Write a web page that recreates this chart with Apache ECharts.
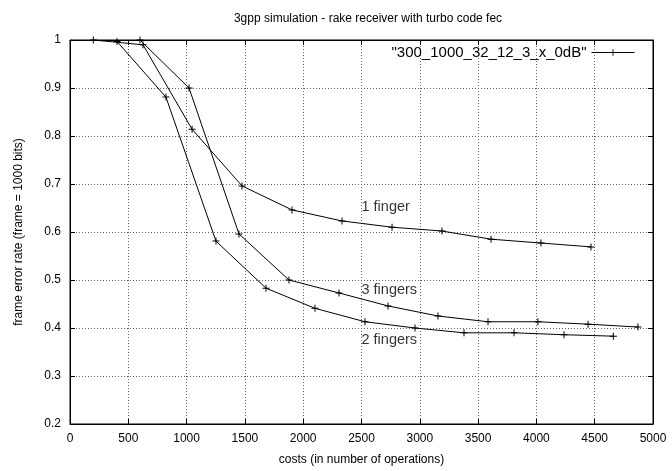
<!DOCTYPE html>
<html>
<meta charset="UTF-8">
<head>
    <title>3gpp simulation - rake receiver</title>
    <script src="https://cdn.jsdelivr.net/npm/echarts@6/dist/echarts.min.js"></script>
    <style>
        body { margin: 0; background: #fff; }
        #main { width: 672px; height: 471px; }
    </style>
</head>
<body>
<div id="main"></div>
<script type="text/javascript">
    // values
    var finger1X = [200, 626, 1047, 1475, 1904, 2333, 2762, 3190, 3611, 4039, 4468];
    var finger1Y = [1.0, 0.99, 0.814, 0.696, 0.646, 0.623, 0.61, 0.602, 0.585, 0.577, 0.569];
    var finger2X = [403, 823, 1252, 1681, 2101, 2530, 2959, 3379, 3808, 4237, 4660];
    var finger2Y = [0.997, 0.881, 0.581, 0.483, 0.441, 0.413, 0.40, 0.39, 0.39, 0.386, 0.383];
    var finger3X = [600, 1021, 1449, 1878, 2307, 2727, 3156, 3585, 4013, 4443, 4871];
    var finger3Y = [1.0, 0.9, 0.596, 0.5, 0.473, 0.446, 0.425, 0.413, 0.413, 0.408, 0.402];

    var labelNames = ['1 finger', '3 fingers', '2 fingers'];
    var labelX = [2500, 2500, 2500];
    var labelY = [0.652, 0.479, 0.375];

    var seriesName = '"300_1000_32_12_3_x_0dB"';
    var plusSymbol = 'path://M0,3H7V4H0Z M3,0H4V7H3Z';
    var font = 'Liberation Sans, Arial, sans-serif';

    function pairs(xs, ys) {
        var out = [];
        for (var i = 0; i < xs.length; i++) {
            out.push([xs[i], ys[i]]);
        }
        return out;
    }

    function curve(xs, ys) {
        return {
            name: seriesName,
            type: 'line',
            data: pairs(xs, ys),
            symbol: plusSymbol,
            symbolSize: 7,
            showSymbol: true,
            lineStyle: { color: '#000', width: 1 },
            itemStyle: { color: '#000' },
            emphasis: { disabled: true }
        };
    }

    var labelData = [];
    for (var k = 0; k < labelNames.length; k++) {
        labelData.push({ name: labelNames[k], value: [labelX[k], labelY[k]] });
    }

    var myChart = echarts.init(document.getElementById('main'));

    var option = {
        animation: false,
        backgroundColor: '#fff',
        textStyle: { fontFamily: font, color: '#000' },
        title: {
            text: '3gpp simulation - rake receiver with turbo code fec',
            left: 363,
            textAlign: 'center',
            top: 8,
            textStyle: { fontSize: 12, fontWeight: 'normal', color: '#000', fontFamily: font }
        },
        legend: {
            data: [seriesName],
            right: 32,
            top: 40,
            align: 'right',
            itemWidth: 43,
            itemHeight: 8,
            itemGap: 6,
            lineStyle: { width: 1 },
            textStyle: { fontSize: 15, color: '#000', fontFamily: font }
        },
        grid: {
            left: 70,
            right: 19,
            top: 40,
            bottom: 47,
            show: true,
            borderColor: '#000',
            borderWidth: 1
        },
        xAxis: [
            {
                type: 'value',
                min: 0,
                max: 5000,
                interval: 500,
                name: 'costs (in number of operations)',
                nameLocation: 'middle',
                nameGap: 30,
                nameTextStyle: { fontSize: 12, color: '#000' },
                axisLine: { show: true, onZero: false, lineStyle: { color: '#000' } },
                axisTick: { show: true, inside: true, length: 5, lineStyle: { color: '#000' } },
                axisLabel: {
                    fontSize: 12, color: '#000', margin: 9,
                    formatter: function (v) { return String(v); }
                },
                splitLine: { show: true, lineStyle: { color: '#666', type: [1, 2], width: 1 } }
            },
            {
                type: 'value',
                position: 'top',
                min: 0,
                max: 5000,
                interval: 500,
                axisLine: { show: true, onZero: false, lineStyle: { color: '#000' } },
                axisTick: { show: true, inside: true, length: 5, lineStyle: { color: '#000' } },
                axisLabel: { show: false },
                splitLine: { show: false }
            }
        ],
        yAxis: [
            {
                type: 'value',
                min: 0.2,
                max: 1,
                interval: 0.1,
                name: 'frame error rate (frame = 1000 bits)',
                nameLocation: 'middle',
                nameGap: 45,
                nameTextStyle: { fontSize: 12, color: '#000' },
                axisLine: { show: true, onZero: false, lineStyle: { color: '#000' } },
                axisTick: { show: true, inside: true, length: 5, lineStyle: { color: '#000' } },
                axisLabel: { fontSize: 12, color: '#000', margin: 9 },
                splitLine: { show: true, lineStyle: { color: '#666', type: [1, 2], width: 1 } }
            },
            {
                type: 'value',
                position: 'right',
                min: 0.2,
                max: 1,
                interval: 0.1,
                axisLine: { show: true, onZero: false, lineStyle: { color: '#000' } },
                axisTick: { show: true, inside: true, length: 5, lineStyle: { color: '#000' } },
                axisLabel: { show: false },
                splitLine: { show: false }
            }
        ],
        series: [
            curve(finger1X, finger1Y),
            curve(finger2X, finger2Y),
            curve(finger3X, finger3Y),
            {
                name: 'labels',
                type: 'scatter',
                data: labelData,
                symbolSize: 0,
                silent: true,
                label: {
                    show: true,
                    position: 'right',
                    distance: 0,
                    formatter: '{b}',
                    fontSize: 14.5,
                    color: '#000',
                    fontFamily: font
                }
            }
        ]
    };

    myChart.setOption(option);
</script>
</body>
</html>
